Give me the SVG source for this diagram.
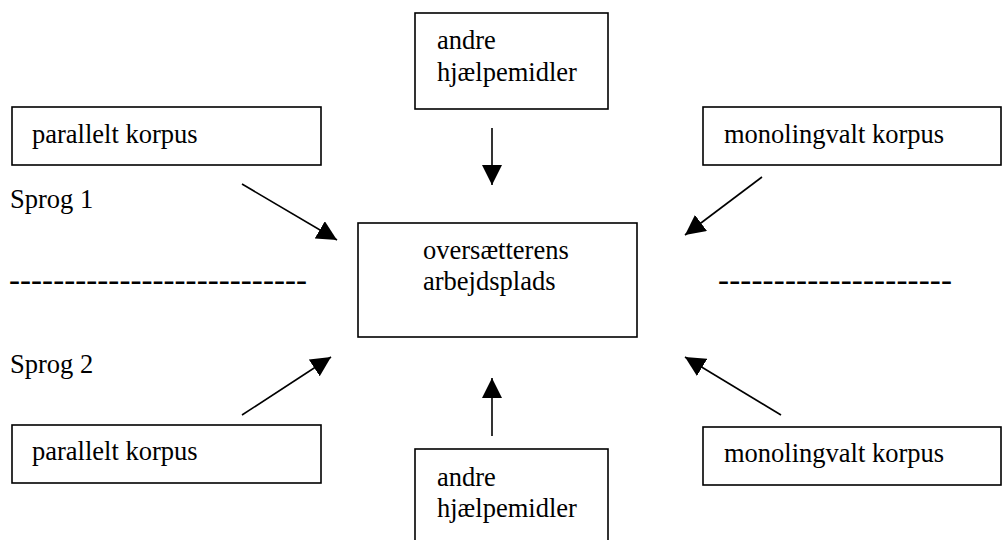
<svg xmlns="http://www.w3.org/2000/svg" width="1003" height="540" viewBox="0 0 1003 540">
<style>
.box{fill:#fff;stroke:#000;stroke-width:1.6}
.t{font-family:"Liberation Serif","Times New Roman",serif;font-size:26.5px;fill:#000}
.d{font-family:"Liberation Serif","Times New Roman",serif;font-size:33px;fill:#000}
.c{stroke:#000;stroke-width:1.6;fill:none;marker-end:url(#ah)}
</style>
<defs>
<marker id="ah" markerUnits="userSpaceOnUse" markerWidth="20" markerHeight="20" refX="20" refY="10" orient="auto">
<path d="M0,0 L20,10 L0,20 z" fill="#000"/>
</marker>
</defs>
<rect width="1003" height="540" fill="#fff"/>
<g id="pk1"><rect class="box" x="12" y="107" width="309" height="58"/><text class="t" x="32" y="143">parallelt korpus</text></g>
<g id="ah1"><rect class="box" x="415" y="13" width="193" height="96"/><text class="t" x="437" y="49">andre</text><text class="t" x="437" y="81">hjælpemidler</text></g>
<g id="mk1"><rect class="box" x="703" y="107" width="298" height="58"/><text class="t" x="724" y="143">monolingvalt korpus</text></g>
<g id="center"><rect class="box" x="358" y="223" width="279" height="114"/><text class="t" x="423" y="259">oversætterens</text><text class="t" x="423" y="290">arbejdsplads</text></g>
<g id="pk2"><rect class="box" x="12" y="425" width="309" height="58"/><text class="t" x="32" y="460">parallelt korpus</text></g>
<g id="ah2"><rect class="box" x="415" y="449" width="193" height="100"/><text class="t" x="437" y="486">andre</text><text class="t" x="437" y="517">hjælpemidler</text></g>
<g id="mk2"><rect class="box" x="703" y="427" width="298" height="58"/><text class="t" x="724" y="462">monolingvalt korpus</text></g>
<g id="labels">
<text class="t" x="10" y="208">Sprog 1</text>
<text class="t" x="10" y="373">Sprog 2</text>
<text class="d" x="9" y="291" textLength="298" lengthAdjust="spacing">---------------------------</text>
<text class="d" x="718" y="291" textLength="234" lengthAdjust="spacing">---------------------</text>
</g>
<g id="connectors">
<line class="c" x1="492" y1="128" x2="492" y2="185"/>
<line class="c" x1="492" y1="436" x2="492" y2="378"/>
<line class="c" x1="242" y1="184" x2="337" y2="240"/>
<line class="c" x1="242" y1="415" x2="331" y2="357"/>
<line class="c" x1="762" y1="177" x2="685" y2="235"/>
<line class="c" x1="781" y1="415" x2="685" y2="357"/>
</g>
</svg>
